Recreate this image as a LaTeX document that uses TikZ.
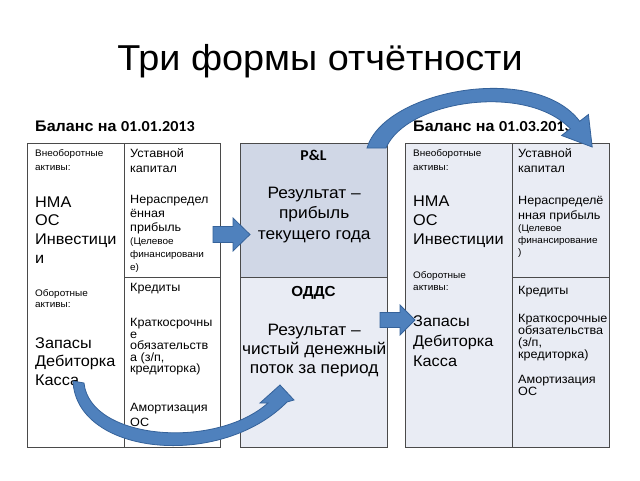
\documentclass[tikz,border=0pt]{standalone}
\usepackage{fontspec}
\setmainfont{Liberation Sans}[FakeStretch=1.05]
\newfontfamily\calib{Carlito}[FakeStretch=1.05]
\definecolor{bordc}{HTML}{4A4A4A}
\definecolor{pnlc}{HTML}{D0D7E6}
\definecolor{lightc}{HTML}{E9ECF4}
\definecolor{arrf}{HTML}{4F81BD}
\definecolor{arrd}{HTML}{35629A}
\newcommand\vl[2]{\vtop{\baselineskip=#1\lineskiplimit=-99pt\lineskip=0pt\relax#2}}
\newcommand\hl[1]{\hbox{#1}}
\newcommand\hc[1]{\hbox to 0pt{\hss#1\hss}}
\tikzset{
  cell/.style={draw=bordc, line width=0.9pt, anchor=north west, inner sep=0pt, outer sep=0pt},
  txt/.style={inner sep=0pt, anchor=base west, text=black},
  tsm/.style={txt, font=\fontsize{9.5}{11}\selectfont},
  tmed/.style={txt, font=\fontsize{12}{14}\selectfont},
  tbig/.style={txt, font=\fontsize{15.5}{18}\selectfont},
  tmid/.style={txt, font=\fontsize{16.5}{19}\selectfont},
  thead/.style={txt, font=\fontsize{15.3}{18}\selectfont\bfseries},
  blockarr/.style={fill=arrf, draw=arrd, line width=0.8pt, line join=miter},
}
\begin{document}
\begin{tikzpicture}[x=1pt, y=-1pt]
\useasboundingbox (0,0) rectangle (640,480);
\fill[white] (0,0) rectangle (640,480);

% title and headings
\node[txt, anchor=base, font=\fontsize{36}{40}\selectfont] (title) at (320,70) {Три формы отчётности};
\node[thead] (h1) at (35,131.5) {Баланс на {\calib 01.01.2013}};
\node[thead] (h2) at (413,131.5) {Баланс на {\calib 01.03.2013}};

% left balance
\node[cell, minimum width=97pt, minimum height=304pt] (LA) at (27,143) {};
\node[cell, minimum width=96pt, minimum height=134pt] (LP) at (124,143) {};
\node[cell, minimum width=96pt, minimum height=170pt] (LL) at (124,277) {};
% middle
\node[cell, fill=pnlc, minimum width=147pt, minimum height=134pt] (PL) at (240,143) {};
\node[cell, fill=lightc, minimum width=147pt, minimum height=170pt] (CF) at (240,277) {};
% right balance
\node[cell, fill=lightc, minimum width=107.5pt, minimum height=304pt] (RA) at (405,143) {};
\node[cell, fill=lightc, minimum width=96.5pt, minimum height=134pt] (RP) at (512.5,143) {};
\node[cell, fill=lightc, minimum width=96.5pt, minimum height=170pt] (RL) at (512.5,277) {};

% left balance texts
\node[tsm] (l1) at (35,156.5) {\vl{13.5pt}{\hl{Внеоборотные}\hl{активы:}}};
\node[tbig] (l2) at (35,207) {\vl{18.8pt}{\hl{НМА}\hl{ОС}\hl{Инвестици}\hl{и}}};
\node[tsm] (l3) at (35,296.5) {\vl{11pt}{\hl{Оборотные}\hl{активы:}}};
\node[tbig] (l4) at (35,348) {\vl{18.7pt}{\hl{Запасы}\hl{Дебиторка}\hl{Касса}}};
\node[tmed] (l5) at (130,157.5) {\vl{15pt}{\hl{Уставной}\hl{капитал}}};
\node[tmed] (l6) at (130,203.3) {\vl{14.2pt}{\hl{Нераспредел}\hl{ённая}\hl{прибыль}}};
\node[tsm] (l7) at (130,244.7) {\vl{12.7pt}{\hl{(Целевое}\hl{финансировани}\hl{е)}}};
\node[tmed] (l8) at (130,291.7) {Кредиты};
\node[tmed] (l9) at (130,326.7) {\vl{11.5pt}{\hl{Краткосрочны}\hl{е}\hl{обязательств}\hl{а (з/п,}\hl{кредиторка)}}};
\node[tmed] (l10) at (130,411) {\vl{15pt}{\hl{Амортизация}\hl{ОС}}};

% middle texts
\node[txt, anchor=base, font=\fontsize{15}{17}\selectfont\calib\bfseries] (m1) at (313.5,160.7) {P\&L};
\node[tmid] (m2) at (313.5,198.3) {\vl{20.5pt}{\hc{Результат –}\hc{прибыль}\hc{текущего года}}};
\node[txt, anchor=base, font=\fontsize{14.5}{17}\selectfont\bfseries] (m3) at (313.5,296.7) {ОДДС};
\node[tmid] (m4) at (313.5,335) {\vl{19pt}{\hc{Результат –}\hc{чистый денежный}\hc{поток за период}}};

% right balance texts
\node[tsm] (r1) at (413,156.5) {\vl{14pt}{\hl{Внеоборотные}\hl{активы:}}};
\node[tbig] (r2) at (413,206.7) {\vl{18.7pt}{\hl{НМА}\hl{ОС}\hl{Инвестиции}}};
\node[tsm] (r3) at (413,278.5) {\vl{11.5pt}{\hl{Оборотные}\hl{активы:}}};
\node[tbig] (r4) at (413,326.7) {\vl{19.7pt}{\hl{Запасы}\hl{Дебиторка}\hl{Касса}}};
\node[tmed] (r5) at (518,157.7) {\vl{15pt}{\hl{Уставной}\hl{капитал}}};
\node[tmed] (r6) at (518,204.3) {\vl{14.7pt}{\hl{Нераспределё}\hl{нная прибыль}}};
\node[tsm] (r7) at (518,231) {\vl{12pt}{\hl{(Целевое}\hl{финансирование}\hl{)}}};
\node[tmed] (r8) at (518,294) {Кредиты};
\node[tmed] (r9) at (518,322) {\vl{12pt}{\hl{Краткосрочные}\hl{обязательства}\hl{(з/п,}\hl{кредиторка)}}};
\node[tmed] (r10) at (518,383) {\vl{12.5pt}{\hl{Амортизация}\hl{ОС}}};

% straight block arrows
\draw[blockarr] (213,226.5) -- (233,226.5) -- (233,218) -- (250,234.5) -- (233,251) -- (233,242.5) -- (213,242.5) -- cycle;
\draw[blockarr] (380,312.5) -- (400,312.5) -- (400,305) -- (415,320) -- (400,335) -- (400,327.5) -- (380,327.5) -- cycle;

% curved arrow: cash -> cash flow statement
\draw[blockarr] (73,381) .. controls (76,455) and (220,470) .. (287,402) -- (294,400) -- (280,385) -- (260,403) -- (268,403) .. controls (215,450) and (90,440) .. (84,383) -- cycle;

% curved arrow: P&L -> new balance
\draw[blockarr] (367,148) .. controls (384,90) and (535,62) .. (579.7,121.3) -- (588.4,114.5) -- (592.2,147) -- (561.6,135.5) -- (570.3,128.7) .. controls (525,82) and (406,101) .. (386,148) -- cycle;
\end{tikzpicture}
\end{document}
